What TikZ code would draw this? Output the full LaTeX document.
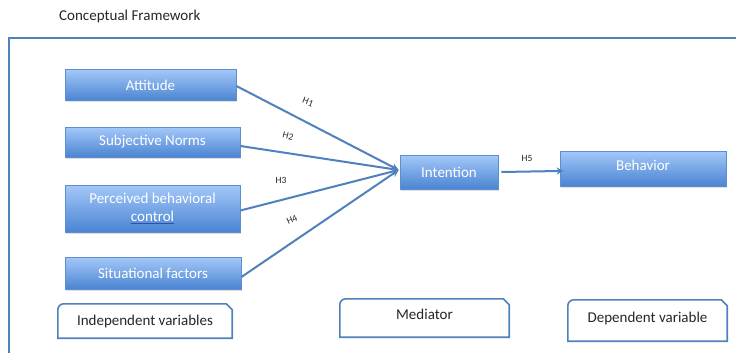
\documentclass[tikz,border=0pt]{standalone}
\usepackage{fontspec}
\setmainfont{Carlito}
\usetikzlibrary{arrows.meta,shadows}
\definecolor{frameblue}{HTML}{4F81BD}
\definecolor{boxtop}{HTML}{A4C8F9}
\definecolor{boxbot}{HTML}{4A84D2}
\definecolor{boxline}{HTML}{5D8ED2}
\definecolor{ulblue}{HTML}{2F4FA8}
\begin{document}
\begin{tikzpicture}[x=1pt,y=-1pt,
  vbox/.style={rectangle, draw=boxline, line width=0.8pt, top color=boxtop, bottom color=boxbot,
    text=white, font=\fontsize{15}{18.5}\selectfont, inner sep=0pt, align=center,
    drop shadow={shadow xshift=1pt, shadow yshift=-1.5pt, opacity=0.25}},
  lbox/.style={rectangle, inner sep=0pt, font=\fontsize{15}{18}\selectfont, text=black!85},
  lline/.style={draw=frameblue, line width=1.6pt},
  conn/.style={draw=frameblue, line width=2pt, -{Stealth[length=7pt,width=7pt]}},
  hlab/.style={font=\fontsize{9.5}{10}\selectfont, text=black!85, inner sep=0pt}
]
\useasboundingbox (0,0) rectangle (736,353);
\fill[white] (0,0) rectangle (736,353);

% title
\node[font=\fontsize{15}{18}\selectfont, text=black!85, anchor=west, inner sep=0pt] (title) at (59,17) {Conceptual Framework};

% outer frame
\draw[frameblue, line width=2.2pt] (9,360) -- (9,38) -- (745,38);

% variable boxes
\node[vbox, minimum width=171pt, minimum height=31pt] (att) at (150.5,85) {Attitude};
\node[vbox, minimum width=175pt, minimum height=30pt] (sn) at (152.5,142) {Subjective Norms};
\node[vbox, minimum width=175pt, minimum height=47pt] (pbc) at (152.5,208.5)
  {Perceived behavioral\\{\color{ulblue}\underline{\color{white}control}}};
\node[vbox, minimum width=176pt, minimum height=32pt] (sf) at (153,273) {Situational factors};
\node[vbox, minimum width=98pt, minimum height=34pt] (int) at (449,172) {Intention};
\node[vbox, minimum width=166pt, minimum height=35pt, text depth=7pt] (beh) at (643,168.5) {Behavior};

% connectors
\draw[conn] ([yshift=-1pt]att.east) -- ([xshift=-1pt,yshift=2pt]int.west);
\draw[conn] ([yshift=-4pt]sn.east) -- ([xshift=-1pt,yshift=2pt]int.west);
\draw[conn] ([yshift=-2pt]pbc.east) -- ([xshift=-1pt,yshift=2pt]int.west);
\draw[conn] ([yshift=-4pt]sf.east) -- ([xshift=-1pt,yshift=2pt]int.west);
\draw[conn, shorten >=-4pt] ([xshift=3pt]int.east) -- ([yshift=-2.5pt]beh.west);

% hypothesis labels
\node[hlab, rotate=-22] (h1) at (308,102) {H1};
\node[hlab, rotate=-14] (h2) at (288,136) {H2};
\node[hlab] (h3) at (281,180) {H3};
\node[hlab, rotate=24] (h4) at (292,220) {H4};
\node[hlab] (h5) at (527,158) {H5};

% legend label boxes
\node[lbox, minimum width=174pt, minimum height=34pt] (iv) at (145,321) {Independent variables};
\node[lbox, minimum width=169pt, minimum height=38pt, text depth=8pt] (med) at (424.5,318) {Mediator};
\node[lbox, minimum width=159pt, minimum height=41pt, text depth=7pt] (dv) at (647.5,320.5) {Dependent variable};
\foreach \n in {iv,med,dv}{
  \draw[lline] (\n.south west) [rounded corners=6pt] -- (\n.north west) [sharp corners]
    -- ([xshift=-6pt]\n.north east) -- ([yshift=-6pt]\n.north east) -- (\n.south east) -- cycle;
}
\end{tikzpicture}
\end{document}
